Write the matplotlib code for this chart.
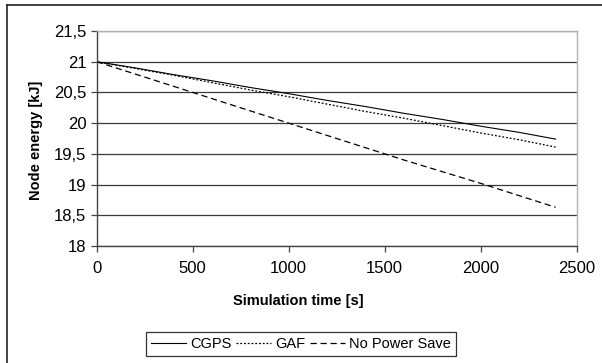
import matplotlib
matplotlib.use("Agg")
import matplotlib.pyplot as plt
from matplotlib.lines import Line2D
from matplotlib.ticker import FuncFormatter

# Simulation time (s) and node energy (kJ) for each protocol
time_s = [0, 200, 400, 600, 800, 1000, 1200, 1400, 1600, 1800, 2000, 2200, 2390]
cgps = [21.00, 20.90, 20.79, 20.69, 20.58, 20.48, 20.37, 20.27, 20.16, 20.06, 19.95, 19.85, 19.74]
gaf = [21.00, 20.89, 20.78, 20.66, 20.54, 20.43, 20.31, 20.19, 20.08, 19.96, 19.84, 19.73, 19.61]
no_power_save = [21.00, 20.80, 20.60, 20.40, 20.20, 20.00, 19.80, 19.60, 19.40, 19.21, 19.02, 18.82, 18.63]

x_ticks = [0, 500, 1000, 1500, 2000, 2500]
y_ticks = [18, 18.5, 19, 19.5, 20, 20.5, 21, 21.5]

plt.rcParams['font.family'] = ['Liberation Sans', 'DejaVu Sans']

W, H = 602, 363
fig = plt.figure(figsize=(W / 100, H / 100), dpi=100)
ax = fig.add_axes([96.7 / W, 1 - 246 / H, 480 / W, 215 / H])

ax.plot(time_s, cgps, color='black', lw=0.8, ls='-', label='CGPS')
ax.plot(time_s, gaf, color='black', lw=0.9, ls=(0, (1.5, 1.5)), label='GAF')
ax.plot(time_s, no_power_save, color='black', lw=0.9, ls=(0, (5, 3)), label='No Power Save')

ax.set_xlim(0, 2500)
ax.set_ylim(18, 21.5)
ax.set_xticks(x_ticks)
ax.set_yticks(y_ticks)
ax.yaxis.set_major_formatter(FuncFormatter(lambda v, p: (f"{v:g}").replace('.', ',')))
ax.grid(axis='y', color='#3a3a3a', lw=0.9)
ax.set_axisbelow(True)
ax.tick_params(direction='out', length=4, width=0.9, color='#444444', labelsize=12)
ax.tick_params(axis='y', pad=3.5)
ax.tick_params(axis='x', pad=7)
for side in ('top', 'right'):
    ax.spines[side].set_color('#b0b0b0')
    ax.spines[side].set_linewidth(1.0)
for side in ('left', 'bottom'):
    ax.spines[side].set_color('#444444')
    ax.spines[side].set_linewidth(1.0)

fig.text(298 / W, 1 - 301 / H, 'Simulation time [s]', ha='center', va='center',
         fontsize=10.5, fontweight='bold')
fig.text(36 / W, 1 - 140 / H, 'Node energy [kJ]', ha='center', va='center',
         rotation=90, fontsize=10.5, fontweight='bold')

leg = fig.legend(loc='center', bbox_to_anchor=(301 / W, 1 - 344 / H), ncol=3,
                 fontsize=10.5, frameon=True, fancybox=False, handlelength=2.4,
                 handletextpad=0.3, columnspacing=0.3, borderpad=0.35,
                 borderaxespad=0)
leg.get_frame().set_edgecolor('black')
leg.get_frame().set_linewidth(0.9)

# outer chart frame (left and top edges)
fig.add_artist(Line2D([7 / W, 7 / W], [0, 1 - 5 / H], transform=fig.transFigure,
                      color='#222222', lw=1.2))
fig.add_artist(Line2D([7 / W, 1], [1 - 5 / H, 1 - 5 / H], transform=fig.transFigure,
                      color='#222222', lw=1.2))

fig.savefig('out.png', dpi=100)
